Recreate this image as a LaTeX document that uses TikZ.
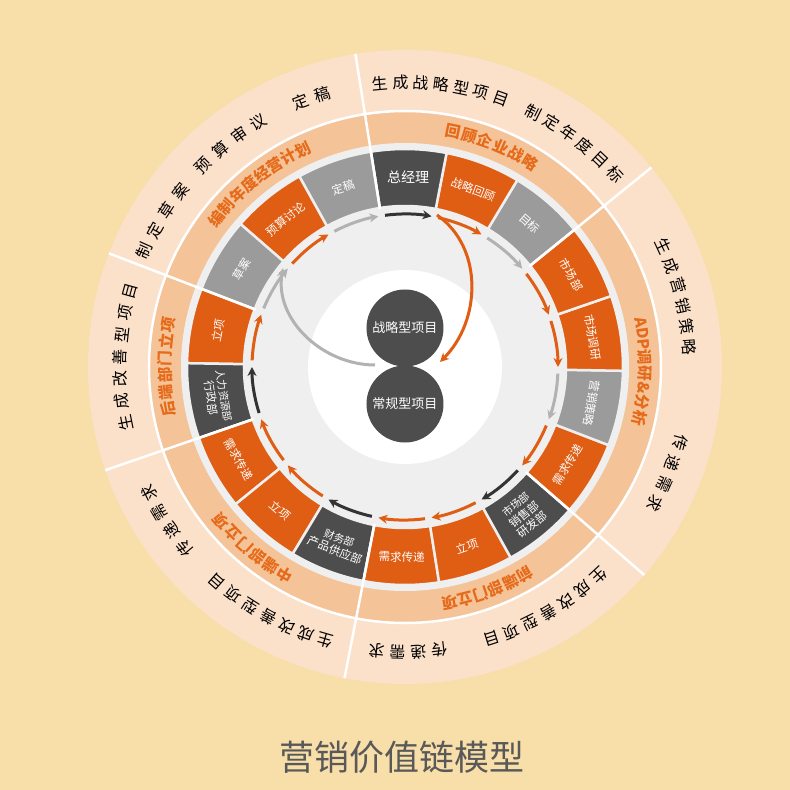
\documentclass[tikz,border=0pt]{standalone}
\usepackage{fontspec}
\setmainfont{Noto Sans CJK SC}
\usetikzlibrary{arrows.meta}
\definecolor{bgyellow}{HTML}{F8DEA8}
\definecolor{outerring}{HTML}{FBE0CA}
\definecolor{midring}{HTML}{F5C398}
\definecolor{ringgray}{HTML}{EFEFEF}
\definecolor{segorange}{HTML}{E05D14}
\definecolor{segdark}{HTML}{4D4D4D}
\definecolor{seggray}{HTML}{9B9B9B}
\definecolor{arrowgray}{HTML}{B2B2B2}
\definecolor{arrowdark}{HTML}{333333}
\definecolor{bandtext}{HTML}{E56A1A}
\definecolor{titlegray}{HTML}{595959}
\tikzset{
  ringchar/.style={inner sep=0pt, text=black, font=\fontsize{16}{16}\selectfont},
  bandchar/.style={inner sep=0pt, text=bandtext, font=\fontsize{15.5}{15.5}\selectfont\bfseries},
  segtext/.style={inner sep=0pt, text=white, align=center, font=\fontsize{11.5}{13}\selectfont},
  ringarrow/.style={line width=3pt, -{Stealth[length=9pt,width=9pt,inset=3pt]}},
  projcircle/.style={circle, fill=segdark, minimum size=77pt, inner sep=0pt, text=white, font=\fontsize{13}{13}\selectfont},
}
\newcommand{\ringword}[6]{%
  \foreach \ch [count=\k from 0] in {#6}
    \node[#1, rotate={#3-\k*#4-90}] (#2-\k) at ({#3-\k*#4}:#5) {\ch};}

\begin{document}
\begin{tikzpicture}[x=1pt, y=1pt]
\useasboundingbox (-405,-423) rectangle (385,367);
\fill[bgyellow] (-405,-423) rectangle (385,367);

\fill[outerring] (0,0) circle (317);
\fill[midring] (0,0) circle (256);
\draw[white, line width=2.5pt] (0,0) circle (256);
\fill[ringgray] (0,0) circle (224);

\foreach \a/\col/\acol/\txt/\rot [count=\s] in {
  49/seggray/arrowgray/目标/-41,
  69/segorange/segorange/战略回顾/-21,
  89/segdark/arrowdark/{\fontsize{14}{14}\selectfont 总经理}/-1,
  109/seggray/arrowgray/定稿/19,
  129/segorange/segorange/预算讨论/39,
  149/seggray/arrowgray/草案/59,
  169/segorange/segorange/立项/79,
  189/segdark/arrowdark/{\fontsize{10.5}{12}\selectfont 人力资源部\\行政部}/-81,
  209/segorange/segorange/需求传递/-61,
  229/segorange/segorange/立项/-41,
  249/segdark/arrowdark/{\fontsize{10.5}{12}\selectfont 财务部\\产品供应部}/-21,
  269/segorange/segorange/需求传递/-1,
  289/segorange/segorange/立项/19,
  309/segdark/arrowdark/{\fontsize{10.5}{12}\selectfont 市场部\\销售部\\研发部}/39,
  329/segorange/segorange/需求传递/59,
  349/seggray/arrowgray/营销策略/-101,
  9/segorange/segorange/市场调研/-81,
  29/segorange/segorange/市场部/-61} {
  \filldraw[fill=\col, draw=ringgray, line width=2.5pt] (\a-10:161) arc[start angle=\a-10, end angle=\a+10, radius=161]
    -- (\a+10:218) arc[start angle=\a+10, end angle=\a-10, radius=218] -- cycle;
  \node[segtext, rotate=\rot] (seg\s) at (\a:190) {\txt};
  \draw[ringarrow, \acol] (\a+8.5:153) arc[start angle=\a+8.5, end angle=\a-9, radius=153];
}

\foreach \d in {39,99,159,199,259,319}
  \draw[white, line width=2.5pt] (\d:160) -- (\d:317);

\fill[white] (0,0) circle (97);

\node[projcircle] (strat) at (0,39) {战略型项目};
\node[projcircle] (regular) at (0,-37) {常规型项目};

\coordinate (gstart) at (-30,2);
\coordinate (gend) at (-122,99);
\coordinate (ostart) at (32,152);
\coordinate (oend) at (35,5);
\draw[arrowgray, line width=3pt, -{Stealth[length=9pt,width=9pt,inset=3pt]}] (gstart) to[out=180, in=-100] (gend);
\draw[segorange, line width=3pt, -{Stealth[length=9pt,width=9pt,inset=3pt]}] (ostart) to[out=-35, in=45] (oend);

\ringword{ringchar}{oa}{156}{4.7}{285}{制,定,草,案}
\ringword{ringchar}{ob}{135}{4.7}{285}{预,算,审,议}
\ringword{ringchar}{oc}{111.5}{4.7}{285}{定,稿}
\ringword{ringchar}{od}{95}{4.1}{285}{生,成,战,略,型,项,目}
\ringword{ringchar}{oe}{63.3}{4.15}{285}{制,定,年,度,目,标}
\ringword{ringchar}{of}{25}{4.2}{285}{生,成,营,销,策,略}
\ringword{ringchar}{og}{-15.4}{4.4}{285}{传,递,需,求}
\ringword{ringchar}{oh}{312.9}{4.2}{285}{生,成,改,善,型,项,目}
\ringword{ringchar}{oi}{276.9}{4.2}{285}{传,递,需,求}
\ringword{ringchar}{oj}{253.8}{4.17}{285}{生,成,改,善,型,项,目}
\ringword{ringchar}{ok}{219.5}{4.4}{285}{传,递,需,求}
\ringword{ringchar}{ol}{191.3}{4.45}{285}{生,成,改,善,型,项,目}

\ringword{bandchar}{ba}{141.8}{3.8}{240}{编,制,年,度,经,营,计,划}
\ringword{bandchar}{bb}{78.5}{4}{240}{回,顾,企,业,战,略}
\ringword{bandchar}{bd}{300}{3.85}{240}{前,端,部,门,立,项}
\ringword{bandchar}{be}{240}{4}{240}{中,端,部,门,立,项}
\ringword{bandchar}{bf}{190}{4.04}{240}{后,端,部,门,立,项}
\foreach \ch/\a [count=\k] in {A/10.6, D/8.0, P/5.5, 调/2.3, 研/-1.6, \&/-5.0, 分/-8.4, 析/-12.3}
  \node[bandchar, rotate=\a-90] (bc-\k) at (\a:240) {\ch};

\node[text=titlegray, font=\fontsize{35}{35}\selectfont] (title) at (-3,-390) {营销价值链模型};
\end{tikzpicture}
\end{document}
